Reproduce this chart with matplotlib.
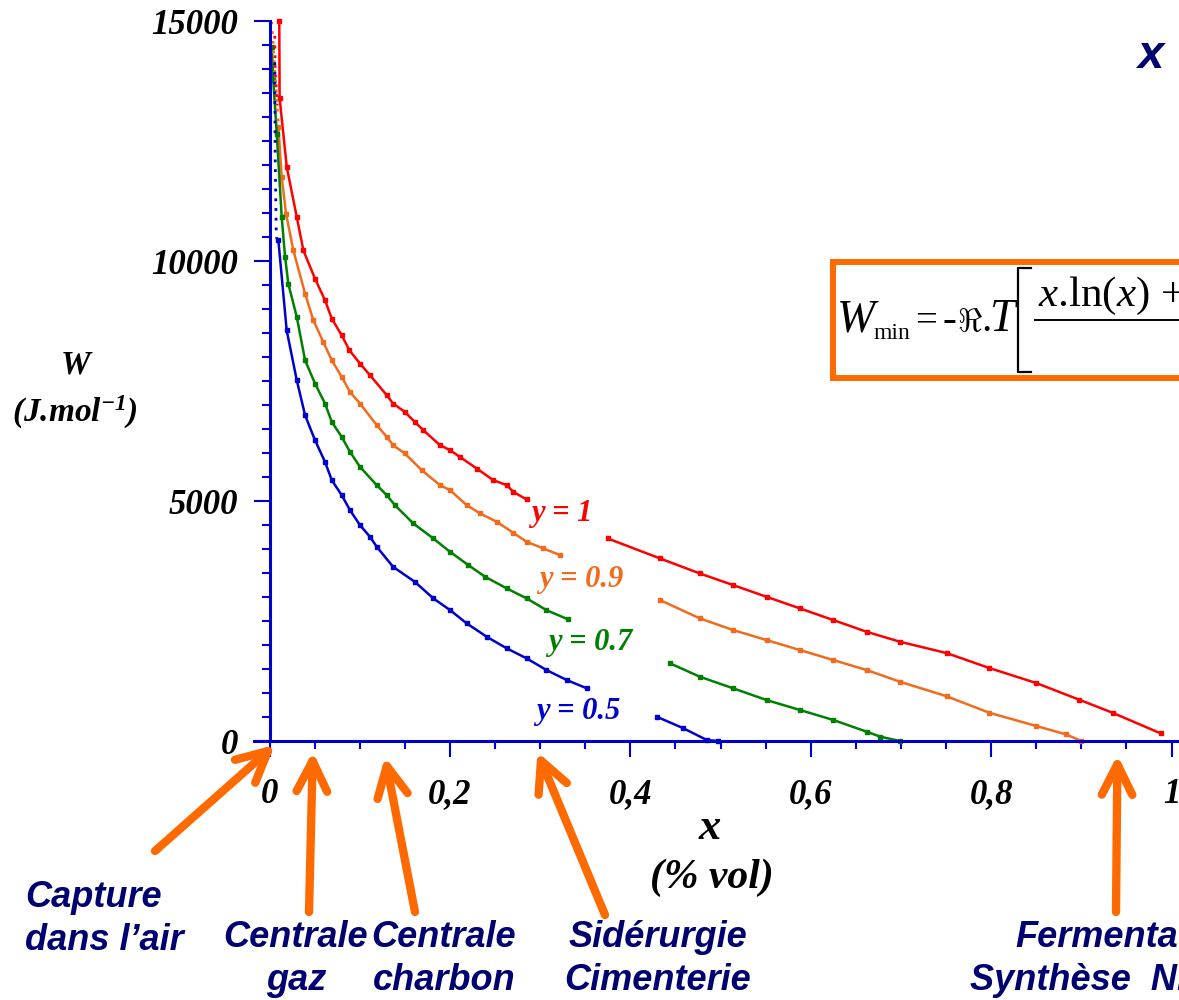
import numpy as np
import matplotlib.pyplot as plt
from matplotlib.patches import Rectangle
from matplotlib.lines import Line2D

plt.rcParams['mathtext.fontset'] = 'custom'
plt.rcParams['mathtext.rm'] = 'Liberation Serif'
plt.rcParams['mathtext.it'] = 'Liberation Serif:italic'
plt.rcParams['mathtext.bf'] = 'Liberation Serif:bold'
plt.rcParams['mathtext.bfit'] = 'Liberation Serif:bold:italic'

# minimum separation work W (J/mol) against CO2 fraction x, one curve per capture rate y
# nan = gap left for the curve label
x_y1 = [0.0108, 0.0112, 0.0191, 0.0302, 0.0375, 0.0504, 0.0615, 0.069, 0.080, 0.0885,
        0.1003, 0.1114, 0.130, 0.137, 0.150, 0.161, 0.1705, 0.189, 0.2001, 0.211,
        0.2297, 0.248, 0.263, 0.2703, 0.285, np.nan, 0.375, 0.4329, 0.477, 0.514,
        0.551, 0.588, 0.625, 0.662, 0.699, 0.7506, 0.798, 0.850, 0.897, 0.9347, 0.988]
W_y1 = [15000, 13400, 11965, 10923, 10229, 9639, 9188, 8806, 8458, 8146,
        7868, 7625, 7208, 7035, 6861, 6652, 6479, 6167, 6063, 5923,
        5681, 5438, 5333, 5194, 5035, np.nan, 4222, 3806, 3493, 3250,
        3006, 2764, 2521, 2277, 2069, 1833, 1521, 1208, 865, 588, 158]

x_y09 = [0.0098, 0.0135, 0.0183, 0.0264, 0.0394, 0.0486, 0.0596, 0.069, 0.080, 0.0892,
         0.1003, 0.1189, 0.130, 0.137, 0.150, 0.1687, 0.189, 0.2001, 0.2186, 0.2334,
         0.252, 0.2703, 0.285, 0.3036, 0.322, np.nan, 0.4329, 0.477, 0.514, 0.551,
         0.588, 0.625, 0.662, 0.699, 0.7506, 0.798, 0.850, 0.883, 0.900]
W_y09 = [12800, 11756, 10993, 10229, 9327, 8771, 8319, 7938, 7590, 7277,
         7035, 6583, 6340, 6167, 5994, 5646, 5333, 5229, 4917, 4744,
         4569, 4340, 4152, 4015, 3875, np.nan, 2938, 2556, 2313, 2104,
         1896, 1688, 1479, 1235, 933, 588, 313, 138, 0]

x_y07 = [0.0024, 0.0042, 0.008, 0.0135, 0.0172, 0.0208, 0.0302, 0.0394, 0.0504, 0.0615,
         0.069, 0.080, 0.0892, 0.1003, 0.1189, 0.130, 0.139, 0.1594, 0.1816, 0.2001,
         0.2204, 0.239, 0.263, 0.285, 0.307, 0.331, np.nan, 0.444, 0.477, 0.514,
         0.551, 0.588, 0.625, 0.662, 0.677, 0.699]
W_y07 = [14465, 13771, 12660, 10923, 10100, 9535, 8840, 7938, 7452, 7035,
         6652, 6340, 6027, 5715, 5333, 5125, 4917, 4535, 4222, 3944,
         3667, 3423, 3181, 2973, 2729, 2535, np.nan, 1619, 1340, 1098,
         854, 646, 438, 194, 90, 0]

x_y05 = [0.0098, 0.019, 0.0302, 0.0394, 0.0504, 0.0615, 0.069, 0.080, 0.0892, 0.1003,
         0.1114, 0.1189, 0.137, 0.161, 0.1816, 0.2001, 0.2186, 0.2408, 0.263, 0.285,
         0.307, 0.3295, 0.3517, np.nan, 0.4293, 0.4588, 0.4847, 0.4975]
W_y05 = [10437, 8563, 7521, 6792, 6271, 5819, 5438, 5125, 4813, 4500,
         4256, 4048, 3631, 3319, 2973, 2729, 2452, 2173, 1931, 1723,
         1479, 1271, 1098, np.nan, 506, 265, 21, 0]

# steep starts near x = 0, drawn dotted
top_x_y1 = [0.0058, 0.0062, 0.0085]
top_W_y1 = [14700, 14000, 13250]
top_x_y09 = [0.0024, 0.005, 0.0075, 0.0098]
top_W_y09 = [15000, 14200, 13500, 12800]
top_x_y05 = [0.0058, 0.0062, 0.0075, 0.0098]
top_W_y05 = [14150, 12300, 10500, 10437]

curve_names = ['y = 1', 'y = 0.9', 'y = 0.7', 'y = 0.5']
curve_colors = ['#ff0000', '#f26b1d', '#008000', '#0000cc']

# CO2 content of typical sources
sources = [['Capture', 'dans l\u2019air'], ['Centrale', 'gaz'], ['Centrale', 'charbon'],
           ['Sid\u00e9rurgie', 'Cimenterie'], ['Fermentation', 'Synth\u00e8se  NH3']]
source_x = [0.006, 0.048, 0.128, 0.297, 0.940]

xticks = [0, 0.2, 0.4, 0.6, 0.8, 1.0]
xticklabels = ['0', '0,2', '0,4', '0,6', '0,8', '1']
yticks = [0, 5000, 10000, 15000]

W_PX, H_PX = 1179, 1000
navy = '#000070'
axis_blue = '#0000cc'
orange = '#ff6a00'
serif_bi = dict(fontfamily='Liberation Serif', fontweight='bold', fontstyle='italic')
sans_bi = dict(fontfamily='Liberation Sans', fontweight='bold', fontstyle='italic')

fig = plt.figure(figsize=(W_PX / 100, H_PX / 100), dpi=100)


def fx(px):
    return px / W_PX


def fy(py):
    return 1 - py / H_PX


# axes laid out so that x=0 sits at 269.5 px and W=0 at 741 px
ax = fig.add_axes([fx(254.2), fy(741), fx(926.4), (741 - 21.5) / H_PX])
ax.set_xlim(-0.017, 1.01)
ax.set_ylim(0, 15000)
ax.patch.set_alpha(0)

for s in ['top', 'right']:
    ax.spines[s].set_visible(False)
ax.spines['left'].set_position(('data', 0))
for s in ['left', 'bottom']:
    ax.spines[s].set_color(axis_blue)
    ax.spines[s].set_linewidth(2.2)

ax.set_xticks(xticks)
ax.set_xticklabels(xticklabels, fontsize=25, **serif_bi)
ax.set_xticks(np.arange(0, 1.01, 0.05), minor=True)
ax.set_yticks(yticks)
ax.set_yticklabels([str(v) for v in yticks], fontsize=25, **serif_bi)
ax.set_yticks(np.arange(0, 15001, 500), minor=True)
ax.tick_params(axis='both', which='both', color=axis_blue, width=1.5, direction='out')
ax.tick_params(axis='both', which='major', length=11.5)
ax.tick_params(axis='both', which='minor', length=6)
ax.tick_params(axis='x', which='major', pad=15)
ax.tick_params(axis='y', which='major', pad=11)

series = [(x_y1, W_y1), (x_y09, W_y09), (x_y07, W_y07), (x_y05, W_y05)]
for (xs, ws), c in zip(series, curve_colors):
    ax.plot(xs, ws, color=c, lw=1.8, marker='s', ms=2.2, clip_on=False)

for xs, ws, c in [(top_x_y1, top_W_y1, curve_colors[0]),
                  (top_x_y09, top_W_y09, curve_colors[1]),
                  (top_x_y05, top_W_y05, curve_colors[3])]:
    ax.plot(xs, ws, color=c, lw=2, ls=(0, (1, 2.5)))

# curve labels in the gaps
label_pos = [(0.324, 4750), (0.345, 3370), (0.356, 2060), (0.342, 620)]
for name, c, (lx, lw) in zip(curve_names, curve_colors, label_pos):
    ax.text(lx, lw, name, color=c, fontsize=22, ha='center', va='center', **serif_bi)

# axis titles
fig.text(fx(76), fy(365), 'W', fontsize=24, ha='center', va='center', **serif_bi)
fig.text(fx(75), fy(412), r'(J.mol$^{\mathbfit{-1}}$)', fontsize=24,
         ha='center', va='center', **serif_bi)
fig.text(fx(710), fy(828), 'x', fontsize=32, ha='center', va='center', **serif_bi)
fig.text(fx(712), fy(878), '(% vol)', fontsize=30, ha='center', va='center', **serif_bi)

# orange arrows from each source name to its CO2 fraction
tails = [(155, 851), (309, 912), (415, 912), (605, 915), (1116, 912)]
head_w = [-80, -220, -330, -230, -290]
for sx, hw, (tx, ty) in zip(source_x, head_w, tails):
    ax.annotate('', xy=(sx, hw), xycoords='data',
                xytext=(tx, H_PX - ty), textcoords='figure pixels',
                annotation_clip=False,
                arrowprops=dict(arrowstyle='->,head_length=1.1,head_width=0.55',
                                mutation_scale=20, lw=6, color=orange,
                                shrinkA=0, shrinkB=0, capstyle='round'))

# source names, two lines each
name_spots = [(25, 'left'), (296, 'center'), (444, 'center'), (658, 'center'), (1015, 'left')]
for (l1, l2), (tx, ha) in zip(sources, name_spots):
    fig.text(fx(tx), fy(907 if l1 == 'Capture' else 947), l1, fontsize=26, color=navy,
             ha=ha, va='baseline', **sans_bi)
    tx2 = 970 if l1 == 'Fermentation' else tx
    fig.text(fx(tx2), fy(950 if l1 == 'Capture' else 990), l2, fontsize=26, color=navy,
             ha=ha, va='baseline', **sans_bi)

fig.text(fx(1137), fy(56), 'x', fontsize=34, color=navy, ha='left', va='center', **sans_bi)

# formula box: W_min = -R.T [ ... / ... ]
box = Rectangle((fx(833), fy(378)), fx(400), (378 - 262) / H_PX, transform=fig.transFigure,
                facecolor='white', edgecolor=orange, lw=4.3, zorder=2)
fig.add_artist(box)
serif = dict(fontfamily='Liberation Serif', ha='left', va='baseline', zorder=3)
fig.text(fx(837), fy(331), 'W', fontsize=33, fontstyle='italic', **serif)
fig.text(fx(873), fy(339), 'min', fontsize=17, **serif)
fig.text(fx(915), fy(331), '=', fontsize=28, **serif)
fig.text(fx(943), fy(331), '-', fontsize=30, **serif)
fig.text(fx(957), fy(331), r'$\Re$', fontsize=24, ha='left', va='baseline', zorder=3)
fig.text(fx(981), fy(331), '.', fontsize=30, **serif)
fig.text(fx(990), fy(331), 'T', fontsize=33, fontstyle='italic', **serif)
bracket_x = [fx(1031), fx(1018), fx(1018), fx(1031)]
bracket_y = [fy(268), fy(268), fy(372), fy(372)]
fig.add_artist(Line2D(bracket_x, bracket_y, color='black', lw=1.6, zorder=3))
fig.add_artist(Line2D([fx(1035), fx(1200)], [fy(320), fy(320)], color='black', lw=1.4, zorder=3))
fig.text(fx(1038), fy(306), r'$x$.ln($x$) + (1$-x$).ln(1$-x$)', fontsize=31, **serif)

fig.savefig('out.png', dpi=100)
